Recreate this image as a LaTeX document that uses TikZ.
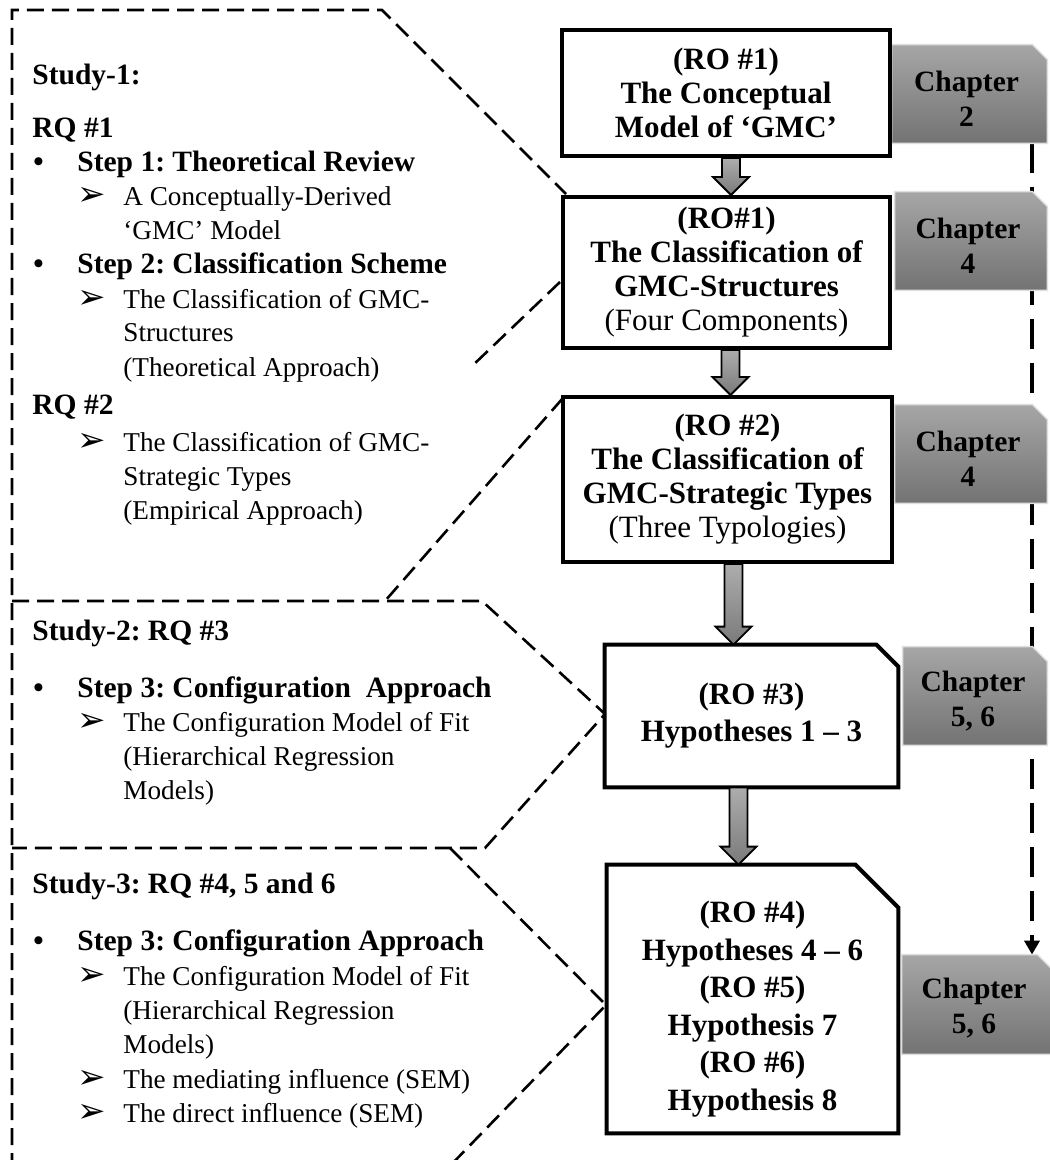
\documentclass[tikz,border=0pt]{standalone}
\usepackage{fontspec}
\setmainfont{Liberation Serif}
\newfontfamily\dingfont{DejaVu Sans}
\usetikzlibrary{calc,arrows.meta}
\pgfdeclarelayer{bg}
\pgfdeclarelayer{mid}
\pgfsetlayers{bg,mid,main}
\frenchspacing

\definecolor{tabtop}{HTML}{A6A6A6}
\definecolor{tabbot}{HTML}{737373}
\definecolor{arrtop}{HTML}{ADADAD}
\definecolor{arrbot}{HTML}{7A7A7A}

\tikzset{
  lt/.style={anchor=base west, inner sep=0pt, font=\fontsize{13.6}{16}\selectfont},
  lb/.style={lt, font=\fontsize{14.75}{17}\selectfont\bfseries},
  ar/.style={lt, font=\dingfont\fontsize{17}{18}\selectfont},
  callout/.style={line width=1.3pt, dash pattern=on 8.5pt off 4pt},
  chapline/.style={line width=2pt, dash pattern=on 15pt off 7pt,
    -{Triangle[width=7.5pt,length=7pt]}},
  rbox/.style={draw, line width=2pt, fill=white, align=center, inner sep=0pt,
    font=\fontsize{15.5}{17}\selectfont\bfseries},
  sbox/.style={align=center, inner sep=0pt,
    font=\fontsize{15.5}{18.5}\selectfont\bfseries},
  snipline/.style={draw, line width=2pt, fill=white, line join=miter},
  tabnode/.style={inner sep=0pt},
  tabtext/.style={align=center, inner sep=0pt,
    font=\fontsize{14.75}{17.5}\selectfont\bfseries},
  tabfill/.style={top color=tabtop, bottom color=tabbot, draw=gray!25, line width=0.7pt},
  blockarr/.style={draw=black, line width=0.9pt, top color=arrtop, bottom color=arrbot},
}

% snipped-corner outline round a named node: #1 node, #2 cut, #3 style
\newcommand\snipshape[3]{%
  \path[#3] (#1.north west) -- ([xshift=-#2]#1.north east)
    -- ([yshift=-#2]#1.north east) -- (#1.south east) -- (#1.south west) -- cycle;}
% vertical block arrow from point #1 down to the level of point #2
\newcommand\blockarrow[2]{%
  \path[blockarr] let \p1=#1, \p2=#2 in
    (\x1-4.5pt,\y1) -- (\x1-4.5pt,\y2+9pt) -- (\x1-9pt,\y2+9pt) -- (\x1,\y2)
    -- (\x1+9pt,\y2+9pt) -- (\x1+4.5pt,\y2+9pt) -- (\x1+4.5pt,\y1) -- cycle;}

\begin{document}
\begin{tikzpicture}[x=0.5pt,y=-0.5pt]
\useasboundingbox (0,0) rectangle (1049,1160);

% ---------- research objective boxes ----------
\node[rbox, minimum width=164pt, minimum height=63pt] (b1) at (726,93)
  {(RO \#1)\\The Conceptual\\Model of ‘GMC’};
\node[rbox, minimum width=163.5pt, minimum height=75.5pt] (b2) at (726.5,272.5)
  {(RO\#1)\\The Classification of\\GMC-Structures\\{\mdseries (Four Components)}};
\node[rbox, minimum width=164.5pt, minimum height=82.5pt] (b3) at (727.5,479.5)
  {(RO \#2)\\The Classification of\\GMC-Strategic Types\\{\mdseries (Three Typologies)}};
\node[sbox, minimum width=146.5pt, minimum height=71pt] (b4) at (751.5,716)
  {(RO \#3)\\Hypotheses 1 – 3};
\node[minimum width=145.5pt, minimum height=134pt, inner sep=0pt] (b5) at (752.5,999) {};
\node[sbox, font=\fontsize{15.5}{18.75}\selectfont\bfseries] (b5t) at (752.5,1009)
  {(RO \#4)\\Hypotheses 4 – 6\\(RO \#5)\\Hypothesis 7\\(RO \#6)\\Hypothesis 8};

% ---------- chapter tabs ----------
\node[tabnode, minimum width=77.5pt, minimum height=49pt] (t1) at (969.5,94) {};
\node[tabnode, minimum width=76pt, minimum height=49pt] (t2) at (971,241) {};
\node[tabnode, minimum width=76pt, minimum height=49pt] (t3) at (971,454) {};
\node[tabnode, minimum width=72pt, minimum height=49pt] (t4) at (975,696) {};
\node[tabnode, minimum width=75pt, minimum height=49.5pt] (t5) at (977,1004.5) {};

\begin{pgfonlayer}{mid}
  \snipshape{b4}{11pt}{snipline}
  \snipshape{b5}{21.5pt}{snipline}
  \snipshape{t1}{7.5pt}{tabfill}
  \snipshape{t2}{7.5pt}{tabfill}
  \snipshape{t3}{7.5pt}{tabfill}
  \snipshape{t4}{7.5pt}{tabfill}
  \snipshape{t5}{7.5pt}{tabfill}
\end{pgfonlayer}

\node[tabtext] (t1x) at ($(t1.center)+(-3,5)$) {Chapter\\2};
\node[tabtext] (t2x) at ($(t2.center)+(-3,5)$) {Chapter\\4};
\node[tabtext] (t3x) at ($(t3.center)+(-3,5)$) {Chapter\\4};
\node[tabtext] (t4x) at ($(t4.center)+(-2,5)$) {Chapter\\5, 6};
\node[tabtext] (t5x) at ($(t5.center)+(-3,4)$) {Chapter\\5, 6};

% ---------- block arrows between the boxes ----------
\blockarrow{($(b1.south)+(5,0)$)}{(b2.north)}
\blockarrow{($(b2.south)+(4,0)$)}{(b3.north)}
\blockarrow{($(b3.south)+(6,0)$)}{(b4.north)}
\blockarrow{($(b4.south)+(-13,0)$)}{(b5.north)}

% ---------- dashed study callouts and chapter line ----------
\coordinate (cx) at (1032,0);
\begin{pgfonlayer}{bg}
  \fill[white] (0,0) rectangle (1049,1160);
  \draw[callout] (12,1170) -- (12,10) -- (382,10) -- (566,194);
  \draw[callout] (560,282) -- (470,368);
  \draw[callout] (563,398) -- (385,601);
  \draw[callout] (12,601) -- (482,601) -- (605,714) -- (485,848) -- (12,848);
  \draw[callout] (450,848) -- (606,1005) -- (446,1170);
  \draw[chapline] (t1.south -| cx) -- (t5.north -| cx);
\end{pgfonlayer}

% ---------- Study 1 ----------
\node[lb] (s1t) at (32,85) {Study-1:};
\node[lb] (s1q) at (32,138) {RQ \#1};
\node[lb] (s1b1) at (33,172) {•};
\node[lb] (s1s1) at (77,172) {Step 1: Theoretical Review};
\node[ar] (s1a1) at (77,206) {➢};
\node[lt] (s1l1) at (123,206) {A Conceptually-Derived};
\node[lt] (s1l2) at (123,240) {‘GMC’ Model};
\node[lb] (s1b2) at (33,274) {•};
\node[lb] (s1s2) at (77,274) {Step 2: Classification Scheme};
\node[ar] (s1a2) at (77,308) {➢};
\node[lt] (s1l3) at (123,308) {The Classification of GMC-};
\node[lt] (s1l4) at (123,342) {Structures};
\node[lt] (s1l5) at (123,376) {(Theoretical Approach)};
\node[lb] (s1q2) at (32,414) {RQ \#2};
\node[ar] (s1a3) at (77,451) {➢};
\node[lt] (s1l6) at (123,451) {The Classification of GMC-};
\node[lt] (s1l7) at (123,485) {Strategic Types};
\node[lt] (s1l8) at (123,519) {(Empirical Approach)};

% ---------- Study 2 ----------
\node[lb] (s2t) at (32,640) {Study-2: RQ \#3};
\node[lb] (s2b1) at (33,697) {•};
\node[lb] (s2s1) at (77,697) {Step 3: Configuration\ \ Approach};
\node[ar] (s2a1) at (77,731) {➢};
\node[lt] (s2l1) at (123,731) {The Configuration Model of Fit};
\node[lt] (s2l2) at (123,765) {(Hierarchical Regression};
\node[lt] (s2l3) at (123,799) {Models)};

% ---------- Study 3 ----------
\node[lb] (s3t) at (32,893) {Study-3: RQ \#4, 5 and 6};
\node[lb] (s3b1) at (33,950) {•};
\node[lb] (s3s1) at (77,950) {Step 3: Configuration Approach};
\node[ar] (s3a1) at (77,985) {➢};
\node[lt] (s3l1) at (123,985) {The Configuration Model of Fit};
\node[lt] (s3l2) at (123,1019) {(Hierarchical Regression};
\node[lt] (s3l3) at (123,1053) {Models)};
\node[ar] (s3a2) at (77,1088) {➢};
\node[lt] (s3l4) at (123,1088) {The mediating influence (SEM)};
\node[ar] (s3a3) at (77,1122) {➢};
\node[lt] (s3l5) at (123,1122) {The direct influence (SEM)};
\end{tikzpicture}
\end{document}
